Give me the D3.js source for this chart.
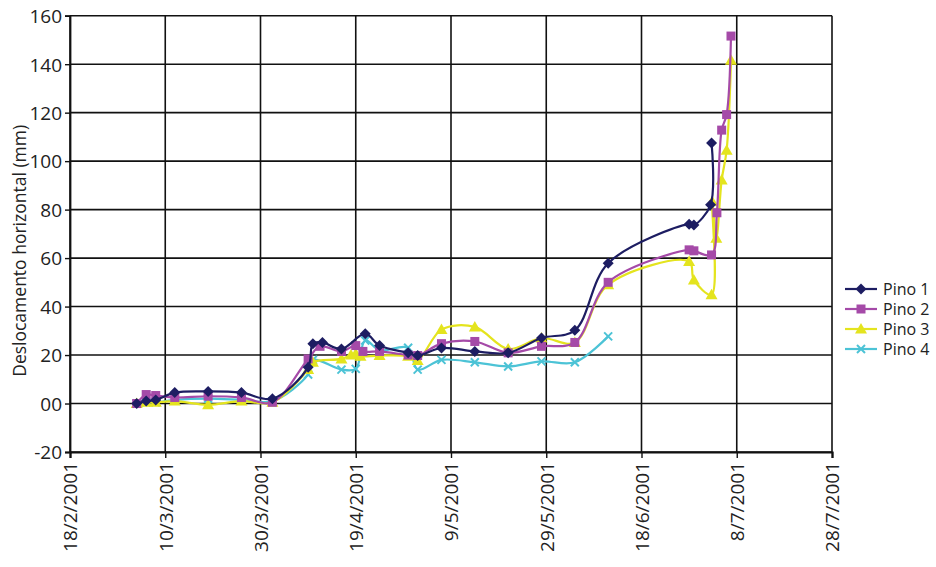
<!DOCTYPE html>
<html>
<head>
<meta charset="utf-8">
<script src="https://cdn.jsdelivr.net/npm/d3@7"></script>
<style>
  body { margin: 0; background: #fff; }
  #chart { width: 936px; height: 567px; }
  text { font-family: "Open Sans", "Noto Sans", sans-serif; fill: #222; }
</style>
</head>
<body>
<div id="chart"></div>
<script>
// Tick values
const xTicks = ["18/2/2001", "10/3/2001", "30/3/2001", "19/4/2001", "9/5/2001",
  "29/5/2001", "18/6/2001", "8/7/2001", "28/7/2001"];
const yTicks = [-20, 0, 20, 40, 60, 80, 100, 120, 140, 160];

// Pino 1
const pino1Dates = ["4/3/2001", "6/3/2001", "8/3/2001", "12/3/2001", "19/3/2001", "26/3/2001", "1/4/2001 12",
  "9/4/2001", "10/4/2001", "12/4/2001", "16/4/2001", "21/4/2001", "24/4/2001", "30/4/2001", "2/5/2001",
  "7/5/2001", "14/5/2001", "21/5/2001", "28/5/2001", "4/6/2001", "11/6/2001", "28/6/2001", "29/6/2001",
  "2/7/2001 12", "2/7/2001 17"];
const pino1Values = [0, 1, 1.5, 4.5, 5, 4.5, 2,
  15, 24.7, 25.2, 22.5, 28.8, 23.9, 20.9, 19.8,
  22.9, 21.5, 20.9, 27, 30.2, 57.9, 74, 73.6,
  82, 107.5];

// Pino 2
const pino2Dates = ["4/3/2001", "6/3/2001", "8/3/2001", "12/3/2001", "19/3/2001", "26/3/2001", "1/4/2001 12",
  "9/4/2001", "11/4/2001 12", "16/4/2001", "19/4/2001", "20/4/2001 12", "24/4/2001", "30/4/2001", "2/5/2001",
  "7/5/2001", "14/5/2001", "21/5/2001", "28/5/2001", "4/6/2001", "11/6/2001", "28/6/2001", "29/6/2001",
  "2/7/2001 17", "3/7/2001 20", "4/7/2001 20", "5/7/2001 21", "6/7/2001 19"];
const pino2Values = [0, 3.7, 3.3, 2.5, 3, 2.5, 0.5,
  18.4, 23.6, 21.5, 23.9, 21.5, 21.5, 20, 19.8,
  24.7, 25.6, 20.9, 23.6, 25.2, 50, 63.4, 63,
  61.3, 78.7, 112.8, 119.2, 151.6];

// Pino 3
const pino3Dates = ["4/3/2001", "6/3/2001", "8/3/2001", "12/3/2001", "19/3/2001", "26/3/2001", "1/4/2001 12",
  "9/4/2001", "10/4/2001", "16/4/2001", "18/4/2001", "19/4/2001", "20/4/2001", "24/4/2001", "30/4/2001", "2/5/2001",
  "7/5/2001", "14/5/2001", "21/5/2001", "28/5/2001", "4/6/2001", "11/6/2001", "28/6/2001", "29/6/2001",
  "2/7/2001 17", "2/7/2001 20", "3/7/2001 17", "4/7/2001 20", "5/7/2001 21", "6/7/2001 19"];
const pino3Values = [0, 0.5, 0.5, 1, -0.5, 1, 0.5,
  14, 17, 18.4, 20, 20.5, 19.5, 19.8, 19.5, 17.8,
  30.5, 31.6, 22.5, 27, 25.2, 49, 58.6, 51,
  44.9, 83.3, 68.2, 92.2, 104.5, 141.6];

// Pino 4
const pino4Dates = ["4/3/2001", "6/3/2001", "8/3/2001", "12/3/2001", "19/3/2001", "26/3/2001", "1/4/2001 12",
  "9/4/2001", "10/4/2001", "16/4/2001", "19/4/2001", "21/4/2001", "24/4/2001", "30/4/2001", "2/5/2001",
  "7/5/2001", "14/5/2001", "21/5/2001", "28/5/2001", "4/6/2001", "11/6/2001"];
const pino4Values = [0, 0.5, 0.5, 1.5, 2, 1.5, 1,
  12, 18, 14, 14.3, 26, 22, 23, 14,
  18, 17, 15.3, 17.4, 17, 27.7];

const seriesNames = ["Pino 1", "Pino 2", "Pino 3", "Pino 4"];
const seriesColors = ["#1d1d62", "#a54aa8", "#e4e41e", "#4cc3d6"];
const seriesMarkers = ["diamond", "square", "triangle", "cross"];

const parseDay = d3.timeParse("%d/%m/%Y");
const parseHour = d3.timeParse("%d/%m/%Y %H");
const parseDate = s => (s.includes(" ") ? parseHour(s) : parseDay(s));

const series = [
  [pino1Dates, pino1Values],
  [pino2Dates, pino2Values],
  [pino3Dates, pino3Values],
  [pino4Dates, pino4Values]
].map(([dates, values], i) => ({
  name: seriesNames[i],
  color: seriesColors[i],
  marker: seriesMarkers[i],
  points: dates.map((d, j) => ({ date: parseDate(d), value: values[j] }))
}));

const width = 936;
const height = 567;
const plot = { left: 70, right: 832, top: 15.7, bottom: 452 };

const svg = d3.select("#chart")
  .append("svg")
  .attr("width", width)
  .attr("height", height);

const x = d3.scaleTime()
  .domain([parseDay(xTicks[0]), parseDay(xTicks[xTicks.length - 1])])
  .range([plot.left, plot.right]);

const y = d3.scaleLinear()
  .domain([-20, 160])
  .range([plot.bottom, plot.top]);

// Grid lines
const grid = svg.append("g").attr("stroke", "#111").attr("stroke-width", 1.6);
grid.selectAll("line.h")
  .data(yTicks)
  .join("line")
  .attr("class", "h")
  .attr("x1", plot.left).attr("x2", plot.right)
  .attr("y1", d => y(d)).attr("y2", d => y(d));
grid.selectAll("line.v")
  .data(xTicks.map(parseDay))
  .join("line")
  .attr("class", "v")
  .attr("x1", d => x(d)).attr("x2", d => x(d))
  .attr("y1", plot.top).attr("y2", plot.bottom);

// Y axis
const yAxis = svg.append("g")
  .attr("transform", `translate(${plot.left},0)`)
  .call(d3.axisLeft(y).tickValues(yTicks).tickSize(5).tickPadding(3)
    .tickFormat(d => (d === 0 ? "00" : d)));
yAxis.select(".domain").attr("stroke", "#111").attr("stroke-width", 1.8);
yAxis.selectAll(".tick line").attr("stroke", "#111").attr("stroke-width", 1.4);
yAxis.selectAll("text").style("font-size", "19px").attr("fill", "#222").attr("dy", "0.36em");

// X axis
const xAxis = svg.append("g")
  .attr("transform", `translate(0,${plot.bottom})`)
  .call(d3.axisBottom(x).tickValues(xTicks.map(parseDay)).tickSize(6)
    .tickFormat(d3.timeFormat("%-d/%-m/%Y")));
xAxis.select(".domain").attr("stroke", "#111").attr("stroke-width", 2.2);
xAxis.selectAll(".tick line").attr("stroke", "#111").attr("stroke-width", 1.4);
xAxis.selectAll("text")
  .style("font-size", "19px")
  .attr("fill", "#222")
  .attr("text-anchor", "end")
  .attr("transform", "rotate(-90)")
  .attr("x", -10)
  .attr("y", 0)
  .attr("dy", "0.36em");

// Y axis title
svg.append("text")
  .attr("transform", `translate(26,${(plot.top + plot.bottom) / 2 + 17}) rotate(-90)`)
  .attr("text-anchor", "middle")
  .style("font-size", "17.5px")
  .text("Deslocamento horizontal (mm)");

// Marker drawing
function drawMarker(g, type, color) {
  if (type === "diamond") {
    g.append("path").attr("d", "M0,-5.5L5.5,0L0,5.5L-5.5,0Z").attr("fill", color);
  } else if (type === "square") {
    g.append("rect").attr("x", -4.5).attr("y", -4.5).attr("width", 9).attr("height", 9).attr("fill", color);
  } else if (type === "triangle") {
    g.append("path").attr("d", "M0,-6L6,4.5L-6,4.5Z").attr("fill", color);
  } else {
    g.append("path").attr("d", "M-4,-4L4,4M-4,4L4,-4")
      .attr("stroke", color).attr("stroke-width", 2).attr("fill", "none");
  }
}

const line = d3.line()
  .x(d => x(d.date))
  .y(d => y(d.value))
  .curve(d3.curveCatmullRom.alpha(0.5));

// Draw series (Pino 4 first so Pino 1 sits on top)
series.slice().reverse().forEach(s => {
  const g = svg.append("g");
  g.append("path")
    .datum(s.points)
    .attr("fill", "none")
    .attr("stroke", s.color)
    .attr("stroke-width", 2.2)
    .attr("d", line);
  g.selectAll("g.pt")
    .data(s.points)
    .join("g")
    .attr("class", "pt")
    .attr("transform", d => `translate(${x(d.date)},${y(d.value)})`)
    .each(function () { drawMarker(d3.select(this), s.marker, s.color); });
});

// Legend
const legend = svg.append("g").attr("transform", "translate(845,289)");
series.forEach((s, i) => {
  const item = legend.append("g").attr("transform", `translate(0,${i * 20})`);
  item.append("line")
    .attr("x1", 0).attr("x2", 32)
    .attr("y1", 0).attr("y2", 0)
    .attr("stroke", s.color)
    .attr("stroke-width", 2.2);
  drawMarker(item.append("g").attr("transform", "translate(16,0)"), s.marker, s.color);
  item.append("text")
    .attr("x", 38)
    .attr("y", 0)
    .attr("dy", "0.36em")
    .style("font-size", "16px")
    .text(s.name);
});
</script>
</body>
</html>
